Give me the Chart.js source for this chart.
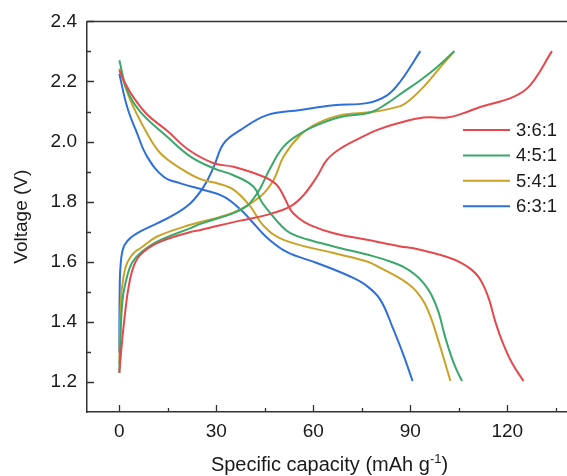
<!DOCTYPE html>
<html>
<head>
<meta charset="utf-8">
<script src="https://cdn.jsdelivr.net/npm/chart.js@4/dist/chart.umd.min.js"></script>
<style>
  html, body { margin: 0; padding: 0; background: #fff; overflow: hidden; }
  #wrap { width: 572px; height: 476px; }
</style>
</head>
<body>
<div id="wrap"><canvas id="c" width="572" height="476"></canvas></div>
<script>
// Series names (electrolyte ratios) and their line colours
const seriesNames = ['3:6:1', '4:5:1', '5:4:1', '6:3:1'];
const seriesColors = ['#e5484d', '#3aa86b', '#c9a227', '#2f70d8'];

// Charge curves: [specific capacity (mAh/g), voltage (V)]
const charge361 = [[0,1.230],[0.8,1.330],[1.9,1.441],[2.9,1.518],[4.4,1.584],[6.5,1.623],[11.7,1.662],[22,1.699],[25.1,1.706],[37.4,1.737],[45.7,1.756],[52.9,1.784],[57.0,1.822],[61.1,1.883],[64.2,1.939],[68.4,1.977],[75.6,2.018],[80,2.040],[85.9,2.060],[94.1,2.080],[101.4,2.080],[106,2.093],[111.6,2.115],[121.9,2.149],[127.1,2.188],[133.8,2.301]];
const charge451 = [[0,1.230],[0.3,1.330],[1.0,1.474],[2.4,1.551],[3.9,1.596],[6.5,1.629],[11.7,1.667],[22,1.712],[25.1,1.726],[35.3,1.762],[39.5,1.786],[41.6,1.812],[43.6,1.845],[46.7,1.912],[50.8,1.983],[56,2.027],[61.1,2.055],[68.4,2.082],[77.6,2.097],[82.8,2.127],[86.9,2.158],[93.1,2.204],[98.3,2.248],[103.6,2.301]];
const charge541 = [[0,1.258],[0.5,1.474],[1.3,1.551],[2.4,1.596],[4.4,1.629],[6.5,1.645],[11.7,1.684],[22,1.723],[35.3,1.764],[43.6,1.817],[47.7,1.872],[50.8,1.950],[56,2.022],[61.1,2.060],[68.4,2.088],[78.7,2.099],[86.9,2.118],[89.5,2.135],[94.1,2.182],[99.3,2.248],[103.6,2.301]];
const charge631 = [[0,1.297],[0.1,1.500],[0.4,1.590],[1.3,1.648],[3.4,1.679],[6.5,1.701],[11.7,1.728],[16.8,1.756],[22,1.795],[26.1,1.850],[29.2,1.916],[32.3,1.994],[37.4,2.038],[45.7,2.088],[56,2.105],[66.3,2.121],[76.6,2.128],[82.8,2.154],[86.9,2.200],[93.1,2.301]];

// Discharge curves: [specific capacity (mAh/g), voltage (V)]
const discharge361 = [[0,2.237],[2,2.190],[4.4,2.147],[8.6,2.090],[14.8,2.036],[21.5,1.972],[29.2,1.928],[35.3,1.916],[44.6,1.883],[48.5,1.858],[51,1.815],[53,1.772],[55.5,1.745],[59,1.722],[66.3,1.695],[76.6,1.673],[86.9,1.651],[91,1.645],[101.4,1.616],[106,1.595],[109,1.573],[111.2,1.548],[112.9,1.515],[114.5,1.470],[116.3,1.400],[118.6,1.330],[121.5,1.262],[125,1.203]];
const discharge451 = [[0,2.271],[2.4,2.171],[6.5,2.099],[14.8,2.016],[22,1.950],[29.2,1.911],[35.3,1.888],[41.5,1.850],[44,1.800],[46.7,1.762],[49.8,1.723],[52.9,1.695],[58,1.675],[66.3,1.651],[78.7,1.618],[84,1.600],[88,1.582],[91.5,1.557],[94.1,1.529],[96.5,1.490],[98.8,1.430],[100.5,1.360],[102.5,1.290],[104.3,1.240],[106,1.203]];
const discharge541 = [[0,2.243],[3.4,2.138],[8.6,2.027],[12.7,1.961],[18.9,1.911],[25.1,1.875],[30,1.862],[35.3,1.840],[40.5,1.784],[44.6,1.720],[50.8,1.673],[66.3,1.629],[76.6,1.601],[80.7,1.580],[86,1.550],[89,1.529],[92,1.500],[94.5,1.460],[96.5,1.410],[98.3,1.350],[100.3,1.280],[102.4,1.203]];
const discharge631 = [[0,2.226],[2.4,2.116],[5.5,2.027],[8.6,1.950],[13.7,1.883],[18.9,1.861],[26.1,1.839],[32.3,1.817],[37.4,1.775],[40.5,1.740],[45.7,1.680],[51.9,1.632],[61.1,1.596],[71.4,1.551],[76.5,1.520],[80.7,1.474],[84.8,1.374],[88,1.286],[90.7,1.203]];

// Axis ticks
const xTicks = [0, 15, 30, 45, 60, 75, 90, 105, 120, 135];
const xLabelled = [0, 30, 60, 90, 120];
const yTicks = [1.1, 1.2, 1.3, 1.4, 1.5, 1.6, 1.7, 1.8, 1.9, 2.0, 2.1, 2.2, 2.3, 2.4];
const yLabelled = [1.2, 1.4, 1.6, 1.8, 2.0, 2.2, 2.4];

const chargeSets = [charge361, charge451, charge541, charge631];
const dischargeSets = [discharge361, discharge451, discharge541, discharge631];

const FONT = "'Liberation Sans', Arial, sans-serif";
const INK = '#1a1a1a';

function toXY(arr) { return arr.map(p => ({ x: p[0], y: p[1] })); }

const datasets = [];
seriesNames.forEach((name, i) => {
  [chargeSets[i], dischargeSets[i]].forEach(curve => {
    datasets.push({
      label: name,
      data: toXY(curve),
      borderColor: seriesColors[i],
      borderWidth: 2,
      pointRadius: 0,
      fill: false,
      tension: 0.4
    });
  });
});

const isLabelled = (list, v) => list.some(t => Math.abs(t - v) < 1e-6);

// Inward tick marks, top frame line, axis titles and legend
const decorations = {
  id: 'decorations',
  afterDraw(chart) {
    const ctx = chart.ctx;
    const area = chart.chartArea;
    const xs = chart.scales.x, ys = chart.scales.y;
    ctx.save();
    ctx.strokeStyle = '#333';
    ctx.lineWidth = 1.5;
    // top frame line
    ctx.beginPath();
    ctx.moveTo(area.left, area.top);
    ctx.lineTo(area.right, area.top);
    ctx.stroke();
    // ticks pointing into the plot
    ctx.lineWidth = 1.3;
    ctx.beginPath();
    xs.ticks.forEach(t => {
      const px = Math.round(xs.getPixelForValue(t.value)) + 0.5;
      const len = isLabelled(xLabelled, t.value) ? 7 : 4;
      ctx.moveTo(px, area.bottom);
      ctx.lineTo(px, area.bottom - len);
    });
    ys.ticks.forEach(t => {
      if (Math.abs(t.value - ys.min) < 1e-6) return;
      const py = Math.round(ys.getPixelForValue(t.value)) + 0.5;
      const len = isLabelled(yLabelled, t.value) ? 7 : 4;
      ctx.moveTo(area.left, py);
      ctx.lineTo(area.left + len, py);
    });
    ctx.stroke();

    // x-axis title with superscript
    ctx.fillStyle = INK;
    ctx.textBaseline = 'alphabetic';
    const main = 'Specific capacity (mAh g';
    const sup = '-1';
    const tail = ')';
    const fMain = '20px ' + FONT, fSup = '13px ' + FONT;
    ctx.font = fMain;
    const wMain = ctx.measureText(main).width;
    const wTail = ctx.measureText(tail).width;
    ctx.font = fSup;
    const wSup = ctx.measureText(sup).width;
    const total = wMain + wSup + wTail;
    let x0 = (area.left + area.right) / 2 - total / 2;
    const base = 471;
    ctx.font = fMain; ctx.textAlign = 'left';
    ctx.fillText(main, x0, base);
    ctx.font = fSup;
    ctx.fillText(sup, x0 + wMain, base - 8);
    ctx.font = fMain;
    ctx.fillText(tail, x0 + wMain + wSup, base);

    // y-axis title
    ctx.save();
    ctx.translate(27, (area.top + area.bottom) / 2);
    ctx.rotate(-Math.PI / 2);
    ctx.font = '19px ' + FONT;
    ctx.textAlign = 'center';
    ctx.fillText('Voltage (V)', 0, 0);
    ctx.restore();

    // legend
    ctx.font = '18.5px ' + FONT;
    ctx.textAlign = 'left';
    ctx.textBaseline = 'middle';
    seriesNames.forEach((name, i) => {
      const y = 130 + i * 25.4;
      ctx.strokeStyle = seriesColors[i];
      ctx.lineWidth = 2;
      ctx.beginPath();
      ctx.moveTo(463, y);
      ctx.lineTo(510, y);
      ctx.stroke();
      ctx.fillStyle = INK;
      ctx.fillText(name, 516, y + 1);
    });
    ctx.restore();
  }
};

new Chart(document.getElementById('c'), {
  type: 'line',
  data: { datasets },
  options: {
    responsive: false,
    animation: false,
    layout: { padding: { top: 21, left: 0, right: 0, bottom: 0 } },
    plugins: { legend: { display: false }, tooltip: { enabled: false } },
    scales: {
      x: {
        type: 'linear',
        min: -10,
        max: 140,
        grid: { display: false, drawTicks: false },
        border: { display: true, color: '#333', width: 1.5 },
        afterBuildTicks: s => { s.ticks = xTicks.map(v => ({ value: v })); },
        afterFit: s => { s.height = 64; },
        ticks: {
          autoSkip: false,
          maxRotation: 0,
          padding: 8,
          color: INK,
          font: { family: FONT, size: 19 },
          callback: v => isLabelled(xLabelled, v) ? String(v) : ''
        }
      },
      y: {
        type: 'linear',
        min: 1.1,
        max: 2.4,
        grid: { display: false, drawTicks: false },
        border: { display: true, color: '#333', width: 1.5 },
        afterBuildTicks: s => { s.ticks = yTicks.map(v => ({ value: v })); },
        afterFit: s => { s.width = 87; },
        ticks: {
          autoSkip: false,
          padding: 10,
          color: INK,
          font: { family: FONT, size: 19 },
          callback: v => isLabelled(yLabelled, v) ? v.toFixed(1) : ''
        }
      }
    }
  },
  plugins: [decorations]
});
</script>
</body>
</html>
